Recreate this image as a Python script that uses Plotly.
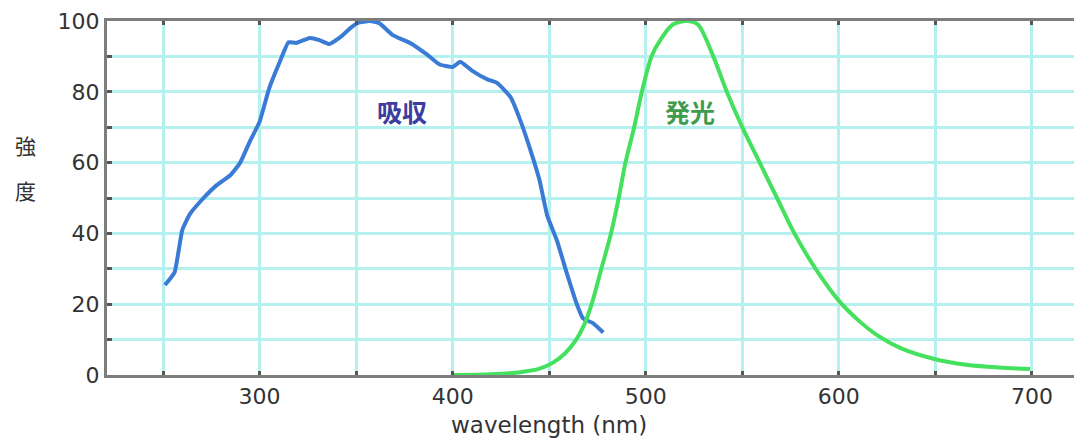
import plotly.graph_objects as go

# Absorption (吸収) spectrum
abs_wl = [251, 256, 260, 264, 271, 278, 285, 290, 295, 300, 305, 310.5, 315, 319, 326, 331,
          336, 342, 347, 351, 357, 362, 369, 378, 387, 393, 400, 404, 410, 418, 423, 430,
          435, 440, 445, 449, 454, 459, 464, 467.5, 472.5, 478]
abs_int = [25.4, 29, 41, 45.5, 50, 53.7, 56.5, 60, 66, 71.5, 81, 88.5, 94, 93.8, 95.2, 94.6,
           93.5, 95.5, 98, 99.5, 100, 99.4, 96, 93.8, 90.4, 87.8, 87, 88.5, 86, 83.5, 82.5, 78.5,
           72, 64, 55, 45, 38, 29, 20.5, 16, 14.7, 12]

# Emission (発光) spectrum
em_wl = [400, 420, 435, 445, 452, 458, 464, 468, 472, 477, 482, 486, 489.5, 494, 498,
         503, 508, 514, 521, 527, 535, 542, 550, 559, 568, 577, 588, 600, 610, 620, 632,
         649, 666, 683, 699]
em_int = [0, 0.2, 0.8, 1.8, 3.5, 6, 10, 14, 20, 30, 40, 50, 60, 70, 80,
          90, 95, 99, 100, 99, 90, 80, 70, 60, 50, 40, 30, 21, 15.5, 11.2, 7.6,
          4.6, 2.9, 2.1, 1.7]

x_title = "wavelength (nm)"
y_title_chars = ["強", "度"]
labels = [("吸収", 374, 74.5, "#3d3d9e"), ("発光", 523, 74.5, "#3f9c4c")]

FONT = "DejaVu Sans, Noto Sans CJK JP, sans-serif"
CJK = "Noto Sans CJK JP, sans-serif"
GRID = "#b4f0ee"

fig = go.Figure()
fig.add_trace(go.Scatter(x=abs_wl, y=abs_int, mode="lines",
                         line=dict(color="#3a7bd5", width=4, shape="spline", smoothing=0.4),
                         showlegend=False))
fig.add_trace(go.Scatter(x=em_wl, y=em_int, mode="lines",
                         line=dict(color="#45e05e", width=4, shape="spline", smoothing=0.8),
                         showlegend=False))

for txt, xv, yv, col in labels:
    fig.add_annotation(x=xv, y=yv, text=f"<b>{txt}</b>", showarrow=False,
                       xanchor="center", yanchor="middle",
                       font=dict(family=CJK, size=25, color=col))

fig.add_annotation(xref="paper", yref="paper", x=0.4545, y=-0.141, text=x_title,
                   showarrow=False, xanchor="center", yanchor="middle",
                   font=dict(family=FONT, size=23, color="#333"))
for ch, py in zip(y_title_chars, [0.650, 0.522]):
    fig.add_annotation(xref="paper", yref="paper", x=-0.084, y=py, text=ch,
                       showarrow=False, xanchor="center", yanchor="middle",
                       font=dict(family=CJK, size=21, color="#333"))

# page body has an 8px margin: shrink the figure and margins to compensate
fig.update_layout(
    width=1074, height=430,
    margin=dict(l=99, r=2, t=13, b=63),
    paper_bgcolor="white", plot_bgcolor="white",
    font=dict(family=FONT, size=22, color="#333"),
    xaxis=dict(range=[221, 724.9], tickmode="linear", tick0=300, dtick=100,
               showgrid=True, gridcolor=GRID, gridwidth=3,
               showline=True, linecolor="#7d7d7d", linewidth=3, mirror="ticks",
               ticks="inside", ticklen=4, tickwidth=3, tickcolor="#555",
               zeroline=False, tickfont=dict(size=22, color="#333"),
               minor=dict(dtick=50, showgrid=True, gridcolor=GRID, gridwidth=3,
                          ticks="inside", ticklen=4, tickwidth=3, tickcolor="#555")),
    yaxis=dict(range=[0, 100], tickmode="linear", tick0=0, dtick=20,
               showgrid=True, gridcolor=GRID, gridwidth=3,
               showline=True, linecolor="#7d7d7d", linewidth=3,
               ticks="inside", ticklen=5, tickwidth=3, tickcolor="#555",
               zeroline=False, tickfont=dict(size=22, color="#333"),
               minor=dict(dtick=10, showgrid=True, gridcolor=GRID, gridwidth=3,
                          ticks="inside", ticklen=5, tickwidth=3, tickcolor="#555")),
)

fig.write_html("out.html")
